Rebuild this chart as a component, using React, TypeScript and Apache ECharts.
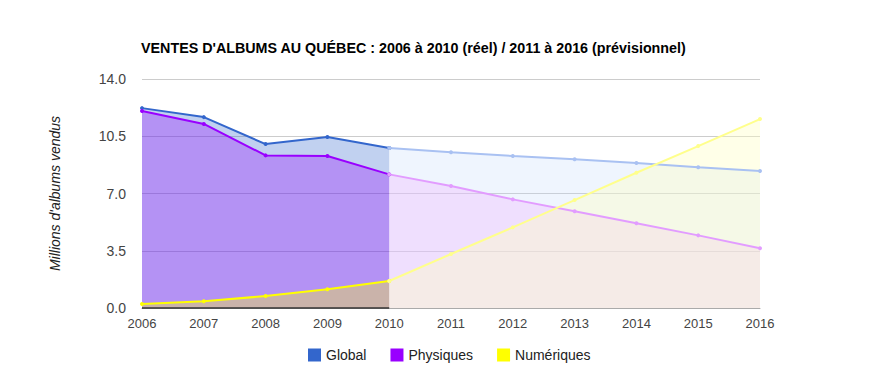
import React, { useEffect, useRef } from "react";
import * as echarts from "echarts";

const years = ["2006", "2007", "2008", "2009", "2010", "2011", "2012", "2013", "2014", "2015", "2016"];
const globalReal = [12.22, 11.67, 10.02, 10.45, 9.78];
const globalForecast = [9.78, 9.52, 9.29, 9.09, 8.86, 8.6, 8.37];
const physReal = [12.04, 11.25, 9.33, 9.29, 8.17];
const physForecast = [8.17, 7.46, 6.64, 5.91, 5.18, 4.44, 3.65];
const numReal = [0.24, 0.41, 0.73, 1.14, 1.65];
const numForecast = [1.65, 3.3, 4.93, 6.6, 8.27, 9.9, 11.55];
const yTicks = { min: 0, max: 14, interval: 3.5 };

const FONT = 'Arial, "Liberation Sans", sans-serif';

function realData(vals: number[]) {
  return years.map((_, i) => (i < vals.length ? vals[i] : null));
}
function forecastData(vals: number[]) {
  const start = years.length - vals.length;
  return years.map((_, i) => (i >= start ? vals[i - start] : null));
}

export default function App() {
  const ref = useRef<HTMLDivElement>(null);
  useEffect(() => {
    if (!ref.current) return;
    const chart = echarts.init(ref.current, null, { renderer: "svg" });
    const mk = (
      name: string,
      data: (number | null)[],
      line: string,
      area: string,
      extra: any = {}
    ) => ({
      name,
      type: "line",
      data,
      symbol: "circle",
      symbolSize: 4,
      showSymbol: true,
      lineStyle: { color: line, width: 2 },
      itemStyle: { color: line },
      areaStyle: { color: area, opacity: 1 },
      emphasis: { disabled: true },
      ...extra,
    });
    chart.setOption({
      animation: false,
      title: {
        text: "VENTES D'ALBUMS AU QUÉBEC : 2006 à 2010 (réel) / 2011 à 2016 (prévisionnel)",
        left: 136,
        top: 36,
        textStyle: { fontFamily: FONT, fontSize: 14.3, fontWeight: "bold", color: "#000" },
      },
      grid: { left: 142, right: 123, top: 79, bottom: 63 },
      legend: {
        data: ["Global", "Physiques", "Numériques"],
        left: 303,
        top: 343,
        icon: "rect",
        itemWidth: 13,
        itemHeight: 13,
        itemGap: 24,
        textStyle: { fontFamily: FONT, fontSize: 14, color: "#222" },
      },
      xAxis: {
        type: "category",
        data: years,
        boundaryGap: false,
        axisLine: { show: true, lineStyle: { color: "#aaa" } },
        axisTick: { show: false },
        axisLabel: { fontFamily: FONT, fontSize: 13, color: "#444", margin: 9 },
        splitLine: { show: false },
      },
      yAxis: {
        type: "value",
        min: yTicks.min,
        max: yTicks.max,
        interval: yTicks.interval,
        name: "Millions d'albums vendus",
        nameLocation: "middle",
        nameGap: 80,
        nameTextStyle: { fontFamily: FONT, fontSize: 14, fontStyle: "italic", color: "#222" },
        axisLine: { show: false },
        axisTick: { show: false },
        axisLabel: {
          fontFamily: FONT,
          fontSize: 14,
          color: "#444",
          margin: 16,
          formatter: (v: number) => v.toFixed(1),
        },
        splitLine: { lineStyle: { color: "#ccc" } },
      },
      series: [
        mk("Global", realData(globalReal), "#3366cc", "rgba(51,102,204,0.3)"),
        mk("Global (prévisionnel)", forecastData(globalForecast), "#a9c1f2", "rgba(191,215,250,0.25)"),
        mk("Physiques", realData(physReal), "#9900ff", "rgba(153,0,255,0.3)", {
          markLine: {
            silent: true,
            symbol: "none",
            label: { show: false },
            lineStyle: { color: "#333", width: 1.5, type: "solid" },
            data: [[{ coord: ["2006", 0] }, { coord: ["2010", 0] }]],
          },
        }),
        mk("Physiques (prévisionnel)", forecastData(physForecast), "#e29cff", "rgba(239,186,254,0.375)"),
        mk("Numériques", realData(numReal), "#ffff00", "rgba(255,255,0,0.3)"),
        mk("Numériques (prévisionnel)", forecastData(numForecast), "#ffff8c", "rgba(255,255,193,0.375)"),
      ],
    });
    return () => chart.dispose();
  }, []);
  return (
    <div
      ref={ref}
      style={{ position: "fixed", left: 0, top: 0, width: 883, height: 371, background: "#fff" }}
    />
  );
}
